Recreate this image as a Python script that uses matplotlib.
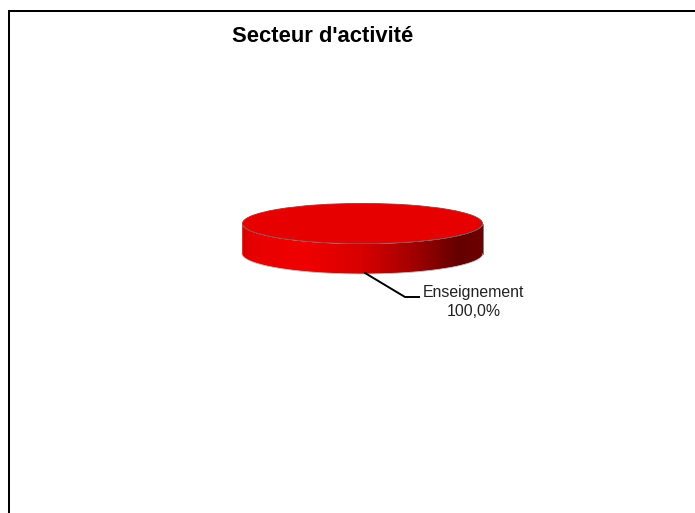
"""plot.py - 3D looking single slice pie, sector of activity."""

import numpy as np
import matplotlib
matplotlib.use("Agg")
import matplotlib.pyplot as plt
from matplotlib.colors import LinearSegmentedColormap
from matplotlib.patches import PathPatch
from matplotlib.path import Path

categories = ["Enseignement"]
shares = [100.0]
title = "Secteur d'activité"

W, H = 695, 513
plt.rcParams["font.family"] = ["Liberation Sans", "DejaVu Sans"]

fig = plt.figure(figsize=(W / 100, H / 100), dpi=100, facecolor="white")

# overlay in pixel coordinates
ax = fig.add_axes([0, 0, 1, 1])
ax.set_xlim(0, W)
ax.set_ylim(H, 0)
ax.axis("off")

# chart border, only left and top are in frame
ax.plot([9, 9, W], [H, 11, 11], color="black", lw=1.45, solid_joinstyle="miter")

cx, cy, a, b, depth = 362.5, 223.5, 120.5, 20.5, 30

# side wall of the disc
t = np.linspace(0, np.pi, 200)
xs = cx + a * np.cos(t)
top = cy + b * np.sin(t)
verts = np.r_[np.c_[xs, top + depth], np.c_[xs[::-1], top[::-1]]]
wall = PathPatch(Path(verts), fc="none", ec="none")
ax.add_patch(wall)
side = LinearSegmentedColormap.from_list(
    "side",
    [(0, "#d80000"), (0.05, "#e80000"), (0.25, "#f00000"), (0.5, "#d80000"),
     (0.72, "#a00000"), (0.9, "#640000"), (1, "#6e0000")],
)
img = ax.imshow(np.linspace(0, 1, 256)[None, :], cmap=side, aspect="auto",
                extent=[cx - a, cx + a, cy + b + depth, cy - b], zorder=2)
img.set_clip_path(wall)
ax.set_xlim(0, W)
ax.set_ylim(H, 0)
ax.plot(xs, top + depth, color="#d4bcbc", lw=0.6, zorder=3)
ax.plot([cx - a, cx - a], [cy, cy + depth], color="#b06060", lw=0.5, zorder=3)
ax.plot([cx + a, cx + a], [cy, cy + depth], color="#604040", lw=0.5, zorder=3)

# top face comes from the pie call
pie_ax = fig.add_axes([(cx - a) / W, 1 - (cy + b) / H, 2 * a / W, 2 * b / H], zorder=3)
pie_ax.patch.set_alpha(0)
wedges, _ = pie_ax.pie(shares, colors=["#e60000"], radius=1, center=(0, 0),
                       wedgeprops={"edgecolor": "#8a4040", "linewidth": 0.6})
pie_ax.set_aspect("auto")
pie_ax.set_xlim(-1.004, 1.004)
pie_ax.set_ylim(-1.02, 1.02)

# leader line and label
ax.plot([365, 405, 419], [273, 297, 297], color="black", lw=1.4, zorder=4)
ax.text(473.5, 302, f"{categories[0]}\n{shares[0]:.1f}%".replace(".", ","),
        ha="center", va="center", fontsize=11.4, color="#222222", linespacing=1.33)

ax.text(322.5, 36, title, ha="center", va="center", fontsize=15.8, fontweight="bold")

fig.savefig("out.png", dpi=100)
